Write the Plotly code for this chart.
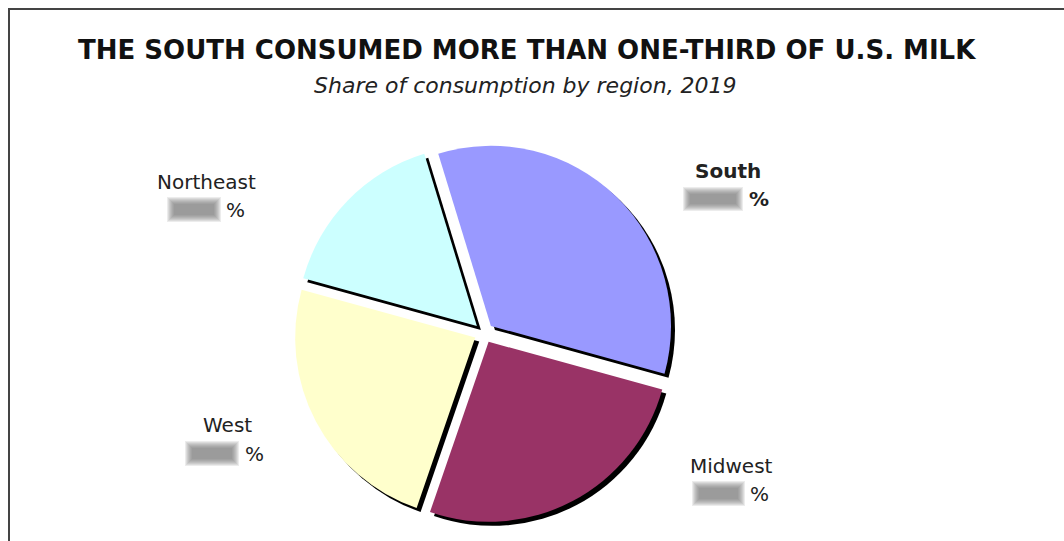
import plotly.graph_objects as go

W, H = 1064, 541

regions = ["South", "Midwest", "West", "Northeast"]
shares = [34, 26, 24, 16]
colors = ["#9999FF", "#993366", "#FFFFCC", "#CCFFFF"]
title = "THE SOUTH CONSUMED MORE THAN ONE-THIRD OF U.S. MILK"
subtitle = "Share of consumption by region, 2019"

def px(x):
    return x / W

def py(y):
    return 1 - y / H

cx, cy, half = 484, 333, 190
dom_x = [px(cx - half), px(cx + half)]
dom_y = [py(cy + half), py(cy - half)]
sh = 4
shadow_x = [px(cx - half + sh), px(cx + half + sh)]
shadow_y = [py(cy + half + sh), py(cy - half + sh)]

pull = [0.055] * len(shares)

fig = go.Figure()
fig.add_trace(go.Pie(
    labels=regions, values=shares, sort=False, direction="clockwise",
    rotation=-17, pull=pull, textinfo="none", hoverinfo="skip",
    marker=dict(colors=["#000000"] * 4, line=dict(width=0)),
    domain=dict(x=shadow_x, y=shadow_y), showlegend=False,
))
fig.add_trace(go.Pie(
    labels=regions, values=shares, sort=False, direction="clockwise",
    rotation=-17, pull=pull, textinfo="none", hoverinfo="label+percent",
    marker=dict(colors=colors, line=dict(width=0)),
    domain=dict(x=dom_x, y=dom_y), showlegend=False,
))

font = "DejaVu Sans"
annotations = [
    dict(x=px(527), y=py(50), text="<b>" + title + "</b>", showarrow=False,
         xanchor="center", yanchor="middle", font=dict(family=font, size=26, color="#111")),
    dict(x=px(525), y=py(85), text="<i>" + subtitle + "</i>", showarrow=False,
         xanchor="center", yanchor="middle", font=dict(family=font, size=22, color="#222")),
]

label_pos = {
    "South": (728, 171, True),
    "Midwest": (731, 466, False),
    "West": (227, 425, False),
    "Northeast": (206, 182, False),
}
box_pos = {
    "South": (687, 191, 739, 207, 759),
    "Midwest": (696, 485, 741, 502, 759),
    "West": (189, 445, 235, 462, 254),
    "Northeast": (171, 201, 217, 218, 235),
}
shapes = []
for r in regions:
    x, y, bold = label_pos[r]
    txt = "<b>%s</b>" % r if bold else r
    annotations.append(dict(x=px(x), y=py(y), text=txt, showarrow=False,
                            xanchor="center", yanchor="middle",
                            font=dict(family=font, size=20, color="#222")))
    x0, y0, x1, y1, xp = box_pos[r]
    annotations.append(dict(x=px(xp), y=py((y0 + y1) / 2), text="<b>%</b>" if bold else "%",
                            showarrow=False, xanchor="center", yanchor="middle",
                            font=dict(family=font, size=20, color="#222")))
    for pad in [4, 3, 2, 1, 0, -1, -2, -3]:
        shapes.append(dict(type="rect", xref="paper", yref="paper",
                           x0=px(x0 - pad), x1=px(x1 + pad), y0=py(y1 + pad), y1=py(y0 - pad),
                           fillcolor="#6a6a6a", opacity=0.13, line=dict(width=0), layer="above"))

shapes.append(dict(type="rect", xref="paper", yref="paper",
                   x0=px(9), x1=1.05, y0=-0.05, y1=py(9),
                   line=dict(color="#444", width=2), fillcolor="rgba(0,0,0,0)"))

fig.update_layout(
    width=W, height=H, margin=dict(l=0, r=0, t=0, b=0),
    paper_bgcolor="white", plot_bgcolor="white",
    annotations=annotations, shapes=shapes,
)
fig.write_html("out.html")
